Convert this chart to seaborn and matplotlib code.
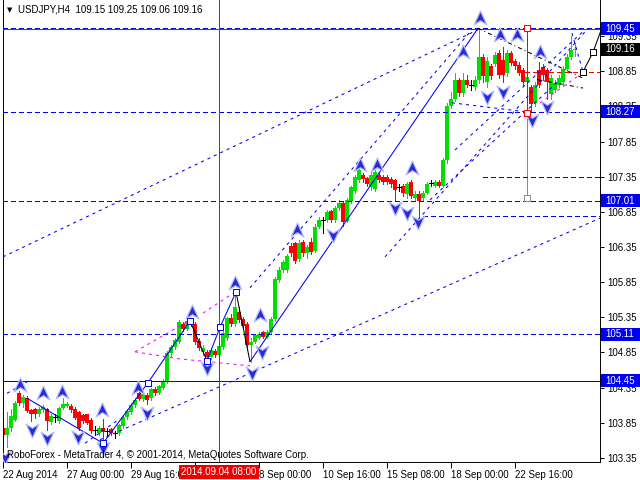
import numpy as np
import pandas as pd
import matplotlib
matplotlib.use("Agg")
import matplotlib.pyplot as plt
from matplotlib.path import Path
from matplotlib.patches import Rectangle
from matplotlib import transforms
import seaborn as sns

# --- datos H4 USDJPY (una vela cada 4 horas, indice = numero de barra) ---
opens = [103.78, 103.68, 103.78, 103.89, 104.27, 104.13, 104.20, 104.03, 104.04, 103.97,
         104.03, 104.04, 103.86, 103.93, 103.88, 104.06, 104.09, 104.09, 104.05, 104.01,
         103.96, 103.97, 103.89, 103.75, 103.70, 103.77, 103.73, 103.76, 103.70, 103.71,
         103.80, 103.93, 104.00, 104.10, 104.27, 104.19, 104.24, 104.20, 104.33, 104.28,
         104.35, 104.44, 104.84, 104.93, 105.00, 105.25, 105.19, 105.30, 105.25, 105.02,
         104.85, 104.86, 104.78, 104.87, 104.81, 104.93, 105.06, 105.34, 105.25, 105.43,
         105.32, 105.26, 104.95, 105.00, 105.06, 105.14, 105.07, 105.14, 105.33, 105.88,
         106.02, 106.02, 106.36, 106.40, 106.18, 106.42, 106.26, 106.42, 106.30, 106.64,
         106.73, 106.73, 106.86, 106.73, 106.90, 106.98, 106.72, 107.00, 107.14, 107.30,
         107.38, 107.33, 107.20, 107.18, 107.38, 107.35, 107.35, 107.32, 107.30, 107.20,
         107.22, 107.10, 107.28, 107.05, 107.10, 107.05, 107.12, 107.26, 107.22, 107.28,
         107.22, 107.58, 108.35, 108.46, 108.72, 108.54, 108.72, 108.66, 108.62, 108.72,
         109.05, 108.70, 108.92, 108.95, 109.11, 109.01, 108.82, 109.11, 109.00, 108.94,
         108.87, 108.70, 108.63, 108.40, 108.87, 108.91, 108.87, 108.52, 108.58, 108.66,
         108.70, 108.88, 109.05, 109.15]
highs = [103.82, 104.00, 104.05, 104.16, 104.30, 104.24, 104.23, 104.05, 104.06, 104.07,
         104.10, 104.06, 103.97, 103.98, 104.08, 104.20, 104.14, 104.12, 104.07, 104.02,
         103.98, 103.98, 103.92, 103.80, 103.80, 103.90, 103.78, 103.78, 103.74, 103.84,
         103.96, 104.05, 104.13, 104.21, 104.30, 104.28, 104.27, 104.35, 104.36, 104.39,
         104.48, 104.87, 104.96, 105.06, 105.31, 105.28, 105.32, 105.33, 105.28, 105.05,
         104.95, 104.88, 104.92, 104.90, 104.98, 105.16, 105.36, 105.40, 105.71, 105.50,
         105.35, 105.28, 105.05, 105.12, 105.14, 105.16, 105.17, 105.36, 105.93, 106.06,
         106.17, 106.25, 106.40, 106.42, 106.45, 106.45, 106.38, 106.48, 106.68, 106.78,
         106.78, 106.88, 106.88, 106.93, 107.02, 107.00, 107.05, 107.22, 107.38, 107.56,
         107.40, 107.35, 107.42, 107.45, 107.42, 107.38, 107.38, 107.35, 107.32, 107.25,
         107.25, 107.28, 107.30, 107.14, 107.14, 107.15, 107.28, 107.30, 107.30, 107.30,
         107.62, 108.40, 108.55, 108.82, 108.76, 108.82, 108.80, 108.72, 108.78, 109.45,
         109.10, 109.05, 108.95, 109.12, 109.15, 109.19, 109.15, 109.14, 109.02, 108.98,
         108.90, 108.82, 108.66, 108.70, 108.98, 108.95, 108.90, 108.80, 108.72, 108.80,
         108.92, 109.10, 109.35, 109.25]
lows = [103.62, 103.50, 103.74, 103.87, 104.10, 104.08, 104.00, 103.87, 103.92, 103.95,
        104.01, 103.75, 103.83, 103.86, 103.85, 104.04, 104.07, 104.00, 103.90, 103.75,
        103.85, 103.83, 103.70, 103.68, 103.68, 103.56, 103.68, 103.67, 103.64, 103.68,
        103.78, 103.90, 103.98, 104.08, 104.17, 104.16, 104.12, 104.18, 104.25, 104.26,
        104.33, 104.42, 104.80, 104.90, 104.98, 105.15, 105.17, 105.22, 104.97, 104.88,
        104.82, 104.73, 104.76, 104.78, 104.80, 104.90, 105.03, 105.22, 105.22, 105.28,
        105.18, 104.90, 104.72, 104.98, 105.04, 105.05, 105.05, 105.12, 105.30, 105.85,
        106.00, 106.00, 106.22, 106.12, 106.15, 106.22, 106.20, 106.25, 106.28, 106.62,
        106.55, 106.70, 106.70, 106.70, 106.88, 106.65, 106.70, 106.98, 107.12, 107.28,
        107.28, 107.22, 107.16, 107.15, 107.28, 107.25, 107.24, 107.20, 107.00, 107.15,
        107.08, 107.05, 107.04, 107.02, 106.77, 107.00, 107.10, 107.22, 107.20, 107.20,
        107.20, 107.55, 108.33, 108.42, 108.50, 108.50, 108.62, 108.58, 108.58, 108.68,
        108.70, 108.62, 108.74, 108.93, 108.75, 108.69, 108.78, 108.94, 108.88, 108.80,
        108.66, 108.62, 108.27, 108.36, 108.63, 108.72, 108.45, 108.46, 108.55, 108.63,
        108.66, 108.85, 109.02, 109.06]
closes = [103.68, 103.78, 103.95, 104.13, 104.13, 104.22, 104.02, 103.98, 103.97, 104.05,
          104.07, 103.88, 103.94, 103.93, 104.06, 104.12, 104.12, 104.03, 103.92, 103.77,
          103.88, 103.85, 103.74, 103.75, 103.78, 103.72, 103.73, 103.70, 103.70, 103.82,
          103.93, 104.02, 104.10, 104.17, 104.19, 104.26, 104.18, 104.33, 104.28, 104.37,
          104.45, 104.84, 104.93, 105.03, 105.28, 105.19, 105.30, 105.25, 105.00, 104.92,
          104.92, 104.78, 104.89, 104.81, 104.94, 105.13, 105.34, 105.25, 105.50, 105.31,
          105.22, 104.95, 105.00, 105.10, 105.11, 105.07, 105.14, 105.33, 105.90, 106.03,
          106.13, 106.22, 106.26, 106.15, 106.40, 106.26, 106.35, 106.28, 106.64, 106.73,
          106.73, 106.85, 106.73, 106.90, 106.98, 106.70, 107.02, 107.20, 107.34, 107.45,
          107.31, 107.25, 107.38, 107.42, 107.30, 107.28, 107.28, 107.24, 107.16, 107.20,
          107.12, 107.25, 107.08, 107.10, 107.00, 107.12, 107.25, 107.26, 107.28, 107.22,
          107.58, 108.36, 108.46, 108.72, 108.54, 108.72, 108.66, 108.66, 108.72, 109.05,
          108.78, 109.00, 108.78, 109.08, 108.80, 108.80, 109.11, 108.97, 108.92, 108.83,
          108.70, 108.77, 108.38, 108.66, 108.66, 108.80, 108.70, 108.76, 108.68, 108.76,
          108.88, 109.05, 109.15, 109.16]

tick_bars = [0, 16, 32, 48, 64, 80, 96, 112, 128]
# la etiqueta de 48 queda tapada por la de la cruz en el original
tick_labels = ["22 Aug 2014", "27 Aug 00:00", "29 Aug 16:00", "", "8 Sep 00:00",
               "10 Sep 16:00", "15 Sep 08:00", "18 Sep 00:00", "22 Sep 16:00"]
price_ticks = [103.35, 103.85, 104.35, 104.85, 105.35, 105.85, 106.35, 106.85,
               107.35, 107.85, 108.35, 108.85, 109.35]

niveles_dash = [109.45, 108.27, 107.01, 105.11]
nivel_solido = 104.45
ultimo = 109.16

# fractales (barra, precio)
fract_up_x = [4.25, 10, 14.75, 24.75, 33.75, 47.25, 58, 64.25, 73.5, 89.25, 93.5, 102.25, 115, 119.25, 124.25, 128.5, 134.25]
fract_up_y = [104.39, 104.27, 104.29, 104.03, 104.35, 105.43, 105.84, 105.38, 106.59, 107.52, 107.52, 107.47, 109.12, 109.61, 109.37, 109.37, 109.12]
fract_dn_x = [0.5, 7.25, 11, 18.75, 25, 36, 51, 62.25, 64.75, 82.5, 98, 101, 103.75, 121, 125, 132.25, 136]
fract_dn_y = [103.36, 103.75, 103.63, 103.65, 103.49, 103.99, 104.63, 104.56, 104.86, 106.52, 106.90, 106.83, 106.71, 108.48, 108.55, 108.16, 108.34]

# lineas dibujadas sobre el grafico: (x0, y0, x1, y1)
rectas_dash = [(0, 106.21, 118.75, 109.44), (24.25, 103.61, 149.25, 106.76),
               (61.75, 105.77, 117.25, 109.44), (95.5, 106.21, 145.5, 109.41),
               (106.75, 107.02, 139.25, 108.73), (113, 107.73, 145.5, 109.44),
               (20.5, 103.56, 29.25, 103.91), (1, 104.27, 6, 104.43),
               (112.25, 108.40, 131, 108.27), (142.25, 109.39, 145, 108.84)]
horiz_dash = [(120, 107.35, 149.25), (105, 106.79, 149.25)]
zigzag_azul = [[(6, 104.20), (25, 103.56)],
               [(25, 103.56), (36.25, 104.42), (46.75, 105.30)],
               [(51, 104.73), (54.25, 105.21), (58.25, 105.71)],
               [(61.75, 104.72), (118.75, 109.46)]]
zigzag_negro = [[(46.75, 105.30), (51, 104.73)], [(58.25, 105.71), (61.75, 104.72)],
                [(145, 108.84), (147.5, 109.12), (149.5, 109.43)]]
rosa = [[(33, 104.86), (46.75, 105.31)], [(50, 105.41), (58, 105.71)],
        [(33, 104.86), (44, 104.76), (61.75, 104.66)], [(134.25, 108.40), (143.5, 108.77)]]
negro_dash = [[(118.75, 109.46), (145, 108.75)], [(133.5, 108.73), (145, 108.61)]]
cuadros_azul = [(25, 103.56), (36.25, 104.42), (46.75, 105.30), (51, 104.73), (54.25, 105.21), (58.25, 105.71)]
cuadros_negro = [(145, 108.84), (147.5, 109.12)]

AZUL = "#0000f0"
VERDE = "#00e000"
ROJO = "#ff0000"
LW = 0.5

df = pd.DataFrame({"o": opens, "h": highs, "l": lows, "c": closes})
df["bar"] = np.arange(len(df))
df["col"] = np.where(df.c > df.o, VERDE, np.where(df.c < df.o, ROJO, "black"))

sns.set_style("white")
plt.rcParams['font.family'] = ['Liberation Sans', 'DejaVu Sans']
plt.rcParams['lines.scale_dashes'] = False
plt.rcParams['lines.antialiased'] = False
DASH = (0, (2.9, 2.2))
DASH_D = (0, (2.2, 2.9))

fig = plt.figure(figsize=(6.4, 4.8), dpi=100)
ax = fig.add_axes([3 / 640, 18 / 480, 597 / 640, 462 / 480])
ax.set_xlim(0, 149.25)
ax.set_ylim(103.293, 109.862)
ppx = 462 / (109.862 - 103.293)  # pixeles por unidad de precio

# velas
ax.vlines(df.bar, df.l, df.h, colors=df.col, lw=LW, zorder=2, antialiased=False)
cuerpo = df[df.c != df.o]
ax.bar(cuerpo.bar, (cuerpo.c - cuerpo.o).abs(), bottom=np.minimum(cuerpo.o, cuerpo.c),
       width=0.8, color=cuerpo.col, linewidth=0, zorder=2, antialiased=False)
doji = df[df.c == df.o]
ax.hlines(doji.c, doji.bar - 0.45, doji.bar + 0.45, colors="black", lw=LW, zorder=2,
          antialiased=False)

# niveles horizontales
for lv in niveles_dash:
    ax.axhline(lv + 0.012 if lv == 109.45 else lv, color=AZUL, lw=LW, ls=DASH, zorder=3)
ax.axhline(nivel_solido, color=AZUL, lw=LW, zorder=3)
ax.axhline(109.445, color=ROJO, lw=LW, zorder=3)
ax.axvline(54, color=ROJO, lw=LW, zorder=3)
ax.plot([130.5, 149.25], [108.84, 108.84], color=ROJO, lw=LW, ls=DASH, zorder=3)
ax.plot([131, 131], [109.48, 108.27], color=ROJO, lw=LW, zorder=3)
ax.plot([131, 131], [108.27, 107.05], color="#8c8c8c", lw=LW, zorder=3)
for x0, y0, x1 in horiz_dash:
    ax.plot([x0, x1], [y0, y0], color=AZUL, lw=LW, ls=DASH, zorder=3)

# lineas inclinadas (suavizadas para que no salgan gruesas)
for x0, y0, x1, y1 in rectas_dash:
    ax.plot([x0, x1], [y0, y1], color=AZUL, lw=0.75, ls=DASH_D, zorder=3, antialiased=True)
for seg in zigzag_azul:
    xs, ys = zip(*seg)
    ax.plot(xs, ys, color=AZUL, lw=0.75, zorder=3, antialiased=True)
for seg in zigzag_negro:
    xs, ys = zip(*seg)
    ax.plot(xs, ys, color="black", lw=0.75, zorder=3, antialiased=True)
for seg in rosa:
    xs, ys = zip(*seg)
    ax.plot(xs, ys, color="#ff00ff", lw=0.75, ls=DASH_D, zorder=3, antialiased=True)
for seg in negro_dash:
    xs, ys = zip(*seg)
    ax.plot(xs, ys, color="black", lw=0.75, ls=(0, (2.9, 2.2, 0.7, 2.2)), zorder=3,
            antialiased=True)

cx, cy = zip(*cuadros_azul)
ax.scatter(cx, cy, marker="s", s=20, facecolor="white", edgecolor=AZUL, lw=0.7, zorder=5)
cx, cy = zip(*cuadros_negro)
ax.scatter(cx, cy, marker="s", s=20, facecolor="white", edgecolor="black", lw=0.7, zorder=5)
ax.scatter([131, 131], [109.47, 108.26], marker="s", s=20, facecolor="white", edgecolor=ROJO, lw=0.7, zorder=5)
ax.scatter([131], [107.04], marker="s", s=14, facecolor="white", edgecolor="#8c8c8c", lw=0.7, zorder=5)

# flechas de fractales
up_path = Path([(0, 1), (0.85, -0.85), (0, -0.3), (-0.85, -0.85), (0, 1)],
               [Path.MOVETO, Path.LINETO, Path.LINETO, Path.LINETO, Path.CLOSEPOLY])
dn_path = Path([(0, -1), (0.85, 0.85), (0, 0.3), (-0.85, 0.85), (0, -1)],
               [Path.MOVETO, Path.LINETO, Path.LINETO, Path.LINETO, Path.CLOSEPOLY])
sns.scatterplot(x=fract_up_x, y=fract_up_y, marker=up_path, s=115, color="#2a2ad6",
                edgecolor="#b4bcff", linewidth=0.9, ax=ax, zorder=4)
sns.scatterplot(x=fract_dn_x, y=fract_dn_y, marker=dn_path, s=115, color="#2a2ad6",
                edgecolor="#b4bcff", linewidth=0.9, ax=ax, zorder=4)

# ejes
for s in ["left", "right", "bottom"]:
    ax.spines[s].set_color("black")
    ax.spines[s].set_linewidth(0.7)
ax.spines["top"].set_visible(False)
ax.yaxis.tick_right()
ax.set_yticks(price_ticks)
ax.set_yticklabels([f"{p:.2f}" for p in price_ticks])
ax.tick_params(axis="y", length=3, width=0.7, pad=2, labelsize=7, colors="black", right=True, left=False)
ax.set_xticks(tick_bars)
ax.set_xticklabels(tick_labels, ha="left")
ax.tick_params(axis="x", length=4, width=0.7, pad=1.5, labelsize=7, colors="black", bottom=True)
ax.set_xlabel("")
ax.set_ylabel("")
ax.grid(False)

# cajas de precio a la derecha
bt = transforms.blended_transform_factory(ax.transAxes, ax.transData)
for lv, fc in [(109.45, AZUL), (ultimo, "black"), (108.27, AZUL), (107.01, AZUL), (105.11, AZUL), (nivel_solido, AZUL)]:
    ax.add_patch(Rectangle((1 + 1 / 597, lv - 6.5 / ppx), 39 / 597, 13 / ppx, transform=bt,
                           facecolor=fc, edgecolor="none", clip_on=False, zorder=6))
    ax.text(1 + 5 / 597, lv, f"{lv:.2f}", transform=bt, color="white", fontsize=7,
            va="center", ha="left", zorder=7, clip_on=False)

# etiqueta de la cruz
bx = transforms.blended_transform_factory(ax.transData, ax.transAxes)
ax.text(54, -10 / 462, "2014.09.04 08:00", transform=bx, color="white", fontsize=7,
        ha="center", va="center", zorder=7, clip_on=False,
        bbox=dict(boxstyle="square,pad=0.25", facecolor="#ee0000", edgecolor="none"))

fig.text(7 / 640, 1 - 10 / 480, "\u25bc", fontsize=5, va="center", ha="left", color="black",
         family=["DejaVu Sans"])
fig.text(18 / 640, 1 - 10 / 480, "USDJPY,H4  109.15 109.25 109.06 109.16", fontsize=7,
         va="center", ha="left", color="black")
fig.text(7 / 640, 1 - 455 / 480, "RoboForex - MetaTrader 4, \u00a9 2001-2014, MetaQuotes Software Corp.",
         fontsize=7, va="center", ha="left", color="black")

fig.savefig("out.png", dpi=100, facecolor="white")
